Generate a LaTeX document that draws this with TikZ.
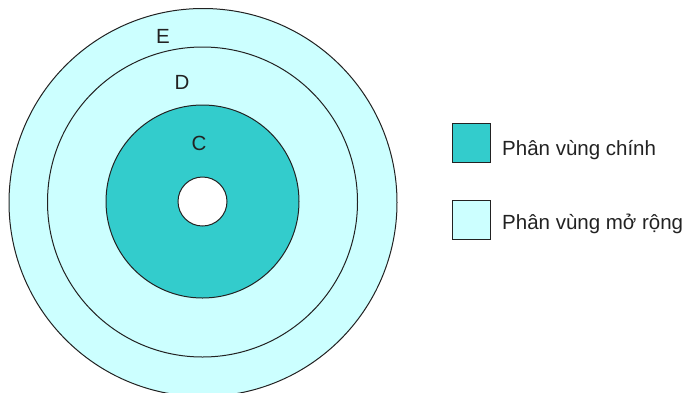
\documentclass[tikz,border=0pt]{standalone}
\usepackage{fontspec}
\setmainfont{Liberation Sans}
\definecolor{mainc}{HTML}{33CCCC}
\definecolor{extc}{HTML}{CCFFFF}
\definecolor{linec}{HTML}{222222}
\begin{document}
\begin{tikzpicture}[x=1pt,y=-1pt,
  ring/.style={circle, draw=linec, line width=1pt, inner sep=0pt, outer sep=0pt},
  lbl/.style={font=\fontsize{20.5}{24}\selectfont, text=linec, inner sep=0pt},
  keybox/.style={draw=linec, line width=1pt, minimum width=38pt, minimum height=39pt, inner sep=0pt}]
\useasboundingbox (0,0) rectangle (691,392);
\clip (0,0) rectangle (691,392);
\node[ring, fill=extc, minimum size=388pt] (E) at (203,202.5) {};
\node[ring, fill=extc, minimum size=310pt] (D) at (202.5,202) {};
\node[ring, fill=mainc, minimum size=193pt] (C) at (202.5,201.5) {};
\node[ring, fill=white, minimum size=49pt] (H) at (202.5,201.5) {};
\node[lbl, anchor=base] (tE) at (163,43) {E};
\node[lbl, anchor=base] (tD) at (182,89.5) {D};
\node[lbl, anchor=base] (tC) at (199,150) {C};
\node[keybox, fill=mainc] (k1) at (471.5,143) {};
\node[keybox, fill=extc] (k2) at (471.5,220) {};
\node[lbl, anchor=base west] (t1) at (502,155) {Phân vùng chính};
\node[lbl, anchor=base west] (t2) at (502,229) {Phân vùng mở rộng};
\end{tikzpicture}
\end{document}
